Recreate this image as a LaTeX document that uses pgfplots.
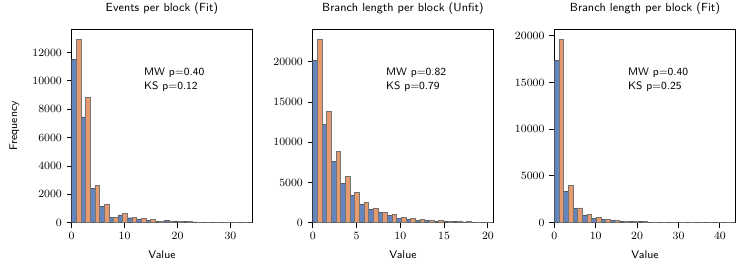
\documentclass[border=0pt]{standalone}
\usepackage{pgfplots}
\usepackage{pgfplotstable}
\pgfplotsset{compat=1.18}
\newlength\px
\setlength\px{0.72pt}
\definecolor{cblue}{HTML}{6485BE}
\definecolor{corange}{HTML}{E59A70}

\pgfplotstableread{
i blue orange
0 11520 12940
1 7470 8830
2 2440 2630
3 1170 1290
4 400 390
5 550 655
6 350 400
7 250 305
8 190 235
9 80 100
10 170 120
11 100 95
12 90 75
13 50 35
14 35 25
15 20 25
16 15 20
17 15 10
18 10 10
19 5 5
}\tabA

\pgfplotstableread{
i blue orange
0 20150 22850
1 12230 13800
2 7670 8910
3 4930 5720
4 3440 3790
5 2340 2570
6 1660 1780
7 1240 1330
8 870 1010
9 560 705
10 430 540
11 330 415
12 290 330
13 207 249
14 166 207
15 124 166
16 104 124
17 83 104
18 62 83
19 41 55
}\tabB

\pgfplotstableread{
i blue orange
0 17360 19640
1 3315 3960
2 1497 1590
3 840 910
4 490 590
5 360 385
6 250 270
7 180 180
8 140 140
9 110 110
10 75 80
11 55 60
12 40 45
13 30 30
14 20 25
15 15 15
16 10 10
17 8 8
18 5 5
19 3 3
}\tabC

\tikzset{ann/.style={anchor=north west, align=left, font=\sffamily\fontsize{7.8}{9.6}\selectfont, inner sep=0pt}}

\begin{document}
\begin{tikzpicture}
\pgfplotsset{
  hist/.style={
    scale only axis, width=180.5\px, height=193.4\px,
    anchor=south west,
    ymin=0, xmin=0,
    axis line style={line width=0.9pt},
    tick align=outside, xtick pos=bottom, ytick pos=left,
    major tick length=4.9\px,
    every tick/.style={black, line width=0.7pt},
    minor tick num=0,
    scaled y ticks=false, scaled x ticks=false,
    /pgf/number format/set thousands separator={},
    tick label style={font=\fontsize{8.4}{9}\selectfont},
    title style={font=\sffamily\fontsize{8.5}{10}\selectfont, at={(axis description cs:0.5,1)}, anchor=base, yshift=9.5\px},
    xlabel style={font=\sffamily\fontsize{8}{10}\selectfont, at={(axis description cs:0.5,0)}, anchor=base, yshift=-35.3\px},
    ylabel style={font=\sffamily\fontsize{8}{10}\selectfont, at={(axis description cs:-0.302,0.5)}, anchor=base},
    xlabel={Value},
  },
  bblue/.style={ybar, bar shift=0pt, fill=cblue, draw=black!65, line width=0.35pt},
  borange/.style={ybar, bar shift=0pt, fill=corange, draw=black!55, line width=0.35pt},
}
\path[use as bounding box] (0,0) rectangle (747\px,273\px);

\begin{axis}[hist, at={(71.7\px,50.3\px)},
  xmax=34.1, ymax=13640,
  xtick={0,10,20,30}, ytick={0,2000,4000,6000,8000,10000,12000},
  title={Events per block (Fit)}, ylabel={Frequency}]
\addplot[bblue, bar width=0.875] table[x expr=\thisrow{i}*1.75+0.4375, y=blue] {\tabA};
\addplot[borange, bar width=0.875] table[x expr=\thisrow{i}*1.75+1.3125, y=orange] {\tabA};
\node[ann] at (rel axis cs:0.40,0.80) {MW p=0.40\\KS p=0.12};
\end{axis}

\begin{axis}[hist, at={(312.7\px,50.3\px)},
  xmax=20.6, ymax=24045,
  xtick={0,5,10,15,20}, ytick={0,5000,10000,15000,20000},
  title={Branch length per block (Unfit)}]
\addplot[bblue, bar width=0.5325] table[x expr=\thisrow{i}*1.065+0.26625, y=blue] {\tabB};
\addplot[borange, bar width=0.5325] table[x expr=\thisrow{i}*1.065+0.79875, y=orange] {\tabB};
\node[ann] at (rel axis cs:0.405,0.80) {MW p=0.82\\KS p=0.79};
\end{axis}

\begin{axis}[hist, at={(554.3\px,50.3\px)}, width=181.4\px,
  xmax=43.8, ymax=20685,
  xtick={0,10,20,30,40}, ytick={0,5000,10000,15000,20000},
  title={Branch length per block (Fit)}]
\addplot[bblue, bar width=1.125] table[x expr=\thisrow{i}*2.25+0.5625, y=blue] {\tabC};
\addplot[borange, bar width=1.125] table[x expr=\thisrow{i}*2.25+1.6875, y=orange] {\tabC};
\node[ann] at (rel axis cs:0.405,0.80) {MW p=0.40\\KS p=0.25};
\end{axis}
\end{tikzpicture}
\end{document}
